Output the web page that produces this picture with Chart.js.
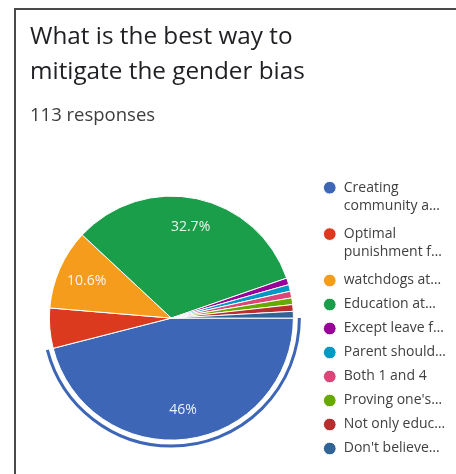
<!DOCTYPE html>
<html>
<head>
<meta charset="utf-8">
<script src="https://cdn.jsdelivr.net/npm/chart.js@4/dist/chart.umd.min.js"></script>
<style>
  body { margin: 0; background: #fff; }
  #frame {
    position: absolute; left: 14px; top: 8px;
    width: 442px; height: 466px;
    border-left: 2px solid #4a4a4a; border-top: 2px solid #4a4a4a;
  }
  #frame canvas { display: block; }
</style>
</head>
<body>
<div id="frame"><canvas id="pie-chart" width="440" height="464"></canvas></div>
<script>
var TITLE = ["What is the best way to", "mitigate the gender bias"];
var SUBTITLE = "113 responses";

var labels = [
  ["Creating", "community a…"],
  ["Optimal", "punishment f…"],
  "watchdogs at…",
  "Education at…",
  "Except leave f…",
  "Parent should…",
  "Both 1 and 4",
  "Proving one's…",
  "Not only educ…",
  "Don't believe…"
];
var counts = [52, 6, 12, 37, 1, 1, 1, 1, 1, 1];
var colors = ["#3d66b6", "#dc3a1f", "#f59c1c", "#1a9e4a", "#990099",
              "#0099c6", "#dd4477", "#66aa00", "#b82e2e", "#316395"];

var FONT = "'Open Sans'";

// percentage text inside the bigger slices
var sliceText = {
  id: "sliceText",
  afterDatasetsDraw: function(chart) {
    var ctx = chart.ctx;
    var meta = chart.getDatasetMeta(0);
    var total = counts.reduce(function(a, b) { return a + b; }, 0);
    ctx.save();
    ctx.font = "500 14px " + FONT;
    ctx.fillStyle = "rgba(255,255,255,0.9)";
    ctx.textAlign = "center";
    ctx.textBaseline = "middle";
    meta.data.forEach(function(arc, i) {
      var pct = counts[i] / total * 100;
      if (pct < 6) return;
      var mid = (arc.startAngle + arc.endAngle) / 2;
      var r = arc.outerRadius * 0.76;
      var txt = pct.toFixed(1).replace(/\.0$/, "") + "%";
      ctx.fillText(txt, arc.x + Math.cos(mid) * r, arc.y + Math.sin(mid) * r);
    });
    ctx.restore();
  }
};

// selection ring around the first slice
var selectRing = {
  id: "selectRing",
  afterDatasetsDraw: function(chart) {
    var arc = chart.getDatasetMeta(0).data[0];
    var ctx = chart.ctx;
    ctx.save();
    ctx.beginPath();
    ctx.arc(arc.x, arc.y, arc.outerRadius + 6, arc.startAngle, arc.endAngle);
    ctx.strokeStyle = colors[0];
    ctx.lineWidth = 3;
    ctx.stroke();
    ctx.restore();
  }
};

new Chart(document.getElementById("pie-chart"), {
  type: "pie",
  data: {
    labels: labels,
    datasets: [{
      data: counts,
      backgroundColor: colors,
      borderColor: "#fff",
      borderWidth: 1,
      radius: 122
    }]
  },
  options: {
    responsive: false,
    animation: false,
    rotation: 90,
    layout: { padding: { left: 14, right: 0, top: 0, bottom: 1 } },
    plugins: {
      title: {
        display: true,
        text: TITLE,
        align: "start",
        color: "#202124",
        font: { family: FONT, size: 24.3, weight: "normal", lineHeight: 1.42 },
        padding: { top: 10, bottom: 10 }
      },
      subtitle: {
        display: true,
        text: SUBTITLE,
        align: "start",
        color: "#3c3c3c",
        font: { family: FONT, size: 18.5, weight: "500" },
        padding: { top: 6, bottom: 36 }
      },
      legend: {
        position: "right",
        fullSize: false,
        labels: {
          usePointStyle: true,
          pointStyle: "circle",
          boxWidth: 14,
          boxHeight: 9,
          padding: 10,
          color: "#404040",
          font: { family: FONT, size: 14, weight: "500", lineHeight: 1.3 }
        }
      },
      tooltip: { enabled: false }
    }
  },
  plugins: [sliceText, selectRing]
});
</script>
</body>
</html>
